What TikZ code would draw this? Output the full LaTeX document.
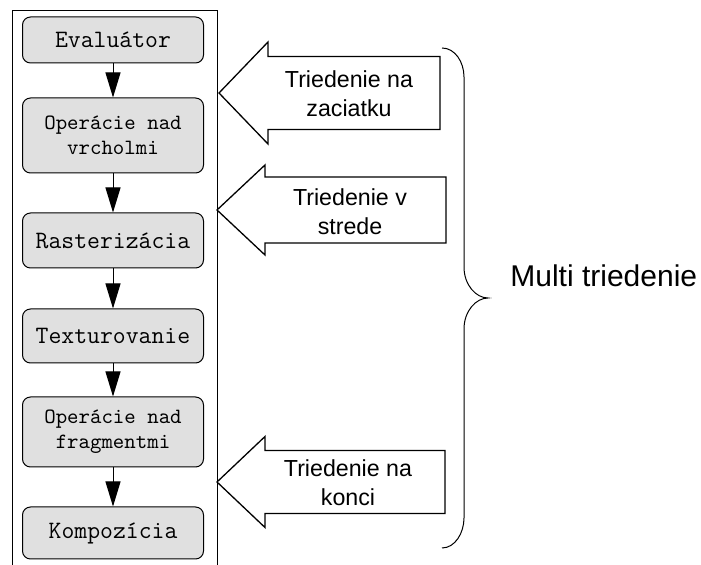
\documentclass[tikz,border=0pt]{standalone}
\usepackage{fontspec}
\setmainfont{Liberation Sans}
\usetikzlibrary{positioning,arrows.meta}
\definecolor{StageGray}{RGB}{224,224,224}

\begin{document}
\begin{tikzpicture}[
    x=0.5pt, y=-0.5pt,
    stage/.style={rectangle,draw,rounded corners=4pt,fill=StageGray,minimum width=90.5pt,align=center,line width=0.5pt,font=\ttfamily\fontsize{12.5}{12.5}\selectfont},
    smallstage/.style={stage,font=\ttfamily\fontsize{10.9}{12.5}\selectfont},
    flow/.style={-{Triangle[width=7.5pt,length=12.5pt]},line width=0.5pt},
    bigarrow/.style={draw,line width=0.65pt,fill=white,line join=miter},
    sorttext/.style={align=center,font=\fontsize{11.6}{14.5}\selectfont}
]
\useasboundingbox (0,0) rectangle (701,565);

% Pipeline frame
\draw[line width=0.5pt] (12,575) -- (12,11) -- (217,11) -- (217,575);

% Pipeline stages
\node[stage, minimum height=23pt] (eval) at (113,40) {Evalu\'ator};
\node[smallstage, minimum height=37.5pt] (vertex) at (113,135.5) {Oper\'acie nad\\vrcholmi};
\node[stage, minimum height=27.5pt] (raster) at (113,240.5) {Rasteriz\'acia};
\node[stage, minimum height=27pt] (texture) at (113,336) {Texturovanie};
\node[smallstage, minimum height=35pt] (fragment) at (113,432) {Oper\'acie nad\\fragmentmi};
\node[stage, minimum height=26pt] (compose) at (113,533) {Kompoz\'icia};

\foreach \a/\b in {eval/vertex,vertex/raster,raster/texture,texture/fragment,fragment/compose}
    \draw[flow] (\a) -- (\b);

% Sorting points (block arrows)
\foreach \tx/\bx/\ty/\hh/\sh/\rx in {219/268/93/51/36.5/440, 217/265/210/45/33/446, 217/265/482/45.5/31.5/445}
    \draw[bigarrow] (\tx,\ty) -- (\bx,{\ty-\hh}) -- (\bx,{\ty-\sh}) -- (\rx,{\ty-\sh})
        -- (\rx,{\ty+\sh}) -- (\bx,{\ty+\sh}) -- (\bx,{\ty+\hh}) -- cycle;

\node[sorttext] (sortstart) at (349,94) {Triedenie na\\zaciatku};
\node[sorttext] (sortmid) at (350,212) {Triedenie v\\strede};
\node[sorttext] (sortend) at (348,483) {Triedenie na\\konci};

% Brace
\draw[line width=0.5pt] (442,48) .. controls (455,48) and (464,62) .. (464,77) -- (464,267)
    .. controls (464,285) and (476,298) .. (488,298)
    .. controls (476,298) and (464,311) .. (464,329) -- (464,518)
    .. controls (464,533) and (455,548) .. (442,548);

\node[anchor=base west, font=\fontsize{15}{18}\selectfont, inner sep=0pt] (multi) at (510,287) {Multi triedenie};
\end{tikzpicture}
\end{document}
